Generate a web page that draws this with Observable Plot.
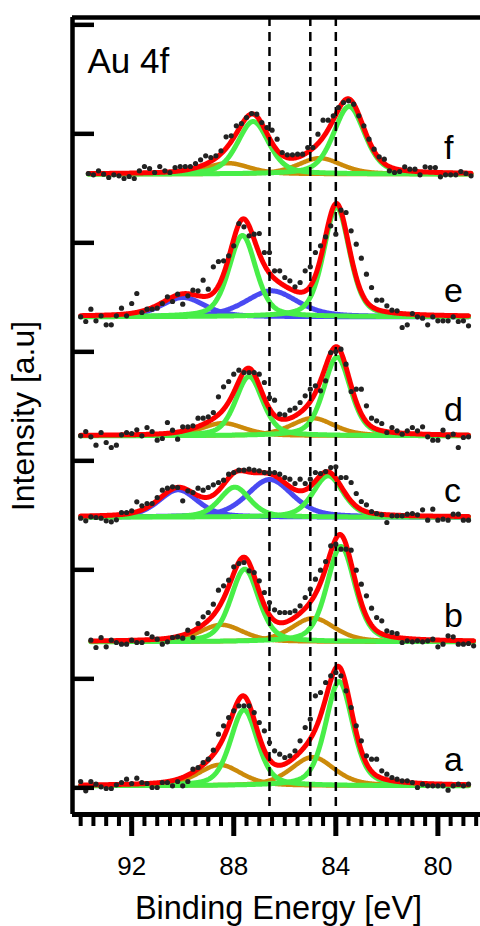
<!DOCTYPE html>
<html><head><meta charset="utf-8">
<script src="https://cdn.jsdelivr.net/npm/d3@7"></script>
<script src="https://cdn.jsdelivr.net/npm/@observablehq/plot@0.6"></script>
<style>body{margin:0;background:#fff}</style>
</head><body><div id="chart"></div>
<script>
// ---- data (intensities in arbitrary units; 327 a.u. between y ticks) ----
const spectra = ["a", "b", "c", "d", "e", "f"];
const offsets = [6, 438, 812, 1056, 1413, 1841];        // vertical stacking offset of each spectrum
const firstEnergy = [94.0, 93.6, 94.0, 94.0, 94.0, 93.7];
const energyStep = 0.2;

const dots_a = [13,-15,13,5,-3,-8,-8,3,10,20, 7,23,10,7,-5,-5,10,10,0,13, 0,13,50,55,70,80,107,155,180,205,
  225,240,240,240,220,190,165,130,105,95, 85,90,105,135,175,200,270,280,310,330, 340,330,285,235,180,135,90,80,80,45,
  35,25,20,15,15,10,-5,5,0,0, 0,0,-13,0,5,0,5];
const dots_b = [5,-17,13,-15,5,-2,-7,-7,5,-2,-2, 25,15,8,-7,0,13,15,11,35,13, 55,75,88,113,155,168,185,225,235,238,
  213,208,183,148,118,96,88,88,88,93, 108,133,158,188,215,241,288,293,278,278, 275,215,173,138,101,73,63,33,28,25,
  -2,3,0,3,0,3,8,-15,-7,18, 15,-7,-7,-5,-12];
const dots_c = [-3,-11,1,-1,-3,-11,-14,-8,14,14, 19,46,34,41,41,59,81,87,91,89, 49,79,74,87,81,89,97,104,111,129,
  134,141,141,144,141,139,134,134,134,129, 119,114,101,114,101,114,134,131,137,149, 151,119,119,104,71,47,37,17,11,7,
  -16,4,4,4,9,11,7,22,-9,24, -9,-6,-9,9,9,-9,-9];
const dots_d = [0,13,-3,-28,10,-20,-35,-28,3,10, 7,18,0,25,13,-13,-8,40,17,-10, 27,27,30,53,53,57,70,117,147,163,
  185,197,190,190,190,185,160,115,107,65, 63,77,83,100,120,140,150,135,165,250, 253,260,215,133,140,140,90,53,45,37,
  10,25,15,5,15,25,15,27,-3,-13, -13,17,-3,5,-35,-5,-3];
const dots_e = [0,-14,23,-12,3,-24,-24,3,26,3, 40,70,13,23,23,26,40,60,46,68, 38,63,80,78,110,83,150,166,168,183,
  213,280,270,243,248,250,193,193,138,138, 118,108,90,103,138,150,193,213,240,273, 248,320,313,258,218,176,128,88,50,50,
  33,20,18,-32,-24,10,0,-4,-24,0, -12,-12,-12,0,-14,-12,-27];
const dots_f = [2,-2,10,0,-10,-2,-5,-13,-7,-13, 10,23,17,5,23,10,5,20,23,23, 23,32,43,55,50,55,70,112,115,145,
  152,170,182,180,155,140,132,105,65,58, 58,60,60,80,80,120,162,162,175,200, 215,220,210,175,145,105,75,52,45,10,
  5,8,22,15,15,-2,22,20,20,-8, -2,-2,-2,8,2,-5];
const dotHeights = [dots_a, dots_b, dots_c, dots_d, dots_e, dots_f];

// fitted peak components
const peakSpectrum = ["a","a","a","a", "b","b","b","b", "c","c","c","c", "d","d","d","d", "e","e","e","e", "f","f","f","f"];
const peakKind = ["green","green","orange","orange", "green","green","orange","orange", "green","green","blue","blue",
                  "green","green","orange","orange", "green","green","blue","blue", "green","green","orange","orange"];
const peakCenter = [83.87,87.60,84.91,88.55, 83.80,87.57,84.89,88.48, 84.30,87.96,86.59,90.18,
                    83.95,87.40,84.91,88.42, 83.97,87.66,86.52,89.99, 83.48,87.24,84.63,88.22];
const peakHeight = [313,228,86,63, 286,218,71,51, 124,90,113,82, 236,178,53,38, 329,244,78,58, 203,158,48,33];
const peakFwhm = [1.25,1.25,2.0,2.0, 1.3,1.3,2.0,2.0, 1.4,1.4,2.1,1.8, 1.25,1.25,2.0,2.0, 1.2,1.25,2.4,2.0, 1.45,1.45,2.0,2.0];
const lorentzFraction = 0.4;

const xMajorTicks = [92, 88, 84, 80];
const xMinorTicks = [94,93.5,93,92.5,92,91.5,91,90.5,90,89.5,89,88.5,88,87.5,87,86.5,86,85.5,85,84.5,84,83.5,83,82.5,82,81.5,81,80.5,80,79.5,79,78.5];
const yTicks = [0, 327, 654, 981, 1308, 1635, 1962, 2289];
const referenceEnergies = [86.6, 85.0, 84.0];
const labelEnergy = 79.76;

const xDomain = [94.32, 78.33];
const yDomain = [-80, 2311];
const kindColor = {green: "#48EE48", orange: "#CC8A0A", blue: "#4A4AF2"};

// ---- build rows ----
function lineShape(e, c, h, w) {
  const t = (e - c) / w;
  return h * (lorentzFraction / (1 + 4 * t * t) + (1 - lorentzFraction) * Math.exp(-4 * Math.LN2 * t * t));
}
const dotRows = [], compRows = [], fitRows = [];
spectra.forEach((s, si) => {
  const hs = dotHeights[si];
  const e0 = firstEnergy[si];
  const eN = e0 - energyStep * (hs.length - 1);
  hs.forEach((v, i) => dotRows.push({s, e: e0 - energyStep * i, y: offsets[si] + v}));
  const n = Math.round((e0 - eN) / 0.02);
  const grid = d3.range(0, n + 1).map(i => e0 - i * 0.02);
  const idx = peakSpectrum.map((p, j) => p === s ? j : -1).filter(j => j >= 0);
  idx.forEach(j => grid.forEach(e => compRows.push({
    s, id: s + j, kind: peakKind[j], e,
    y: offsets[si] + lineShape(e, peakCenter[j], peakHeight[j], peakFwhm[j])
  })));
  grid.forEach(e => fitRows.push({s, e,
    y: offsets[si] + d3.sum(idx, j => lineShape(e, peakCenter[j], peakHeight[j], peakFwhm[j]))}));
});

const compLine = kind => Plot.line(compRows.filter(d => d.kind === kind),
  {x: "e", y: "y", z: "id", stroke: kindColor[kind], strokeWidth: kind === "orange" ? 4.5 : 5, strokeLinejoin: "round"});

const chart = Plot.plot({
  width: 480, height: 926,
  marginLeft: 72, marginRight: 0, marginTop: 17, marginBottom: 112,
  x: {domain: xDomain, axis: null, label: null},
  y: {domain: yDomain, axis: null, label: null},
  style: {fontFamily: "'Liberation Sans', Arial, sans-serif", background: "#fff", color: "#000"},
  marks: [
    compLine("orange"),
    compLine("blue"),
    compLine("green"),
    Plot.line(fitRows, {x: "e", y: "y", z: "s", stroke: "#FF0000", strokeWidth: 5, strokeLinejoin: "round"}),
    Plot.ruleX(referenceEnergies, {stroke: "#000", strokeWidth: 2.5, strokeDasharray: "9,6"}),
    Plot.dot(dotRows, {x: "e", y: "y", r: 2.6, fill: "#222", stroke: null}),
    Plot.ruleX([xDomain[0]], {stroke: "#000", strokeWidth: 4.5}),
    Plot.ruleY([yDomain[0]], {stroke: "#000", strokeWidth: 5}),
    Plot.ruleY([yDomain[1]], {stroke: "#000", strokeWidth: 4.5}),
    Plot.axisY(yTicks, {anchor: "left", label: null, tickSize: 22, dx: 22, strokeWidth: 4.5, tickFormat: () => ""}),
    Plot.axisX(xMinorTicks, {anchor: "bottom", label: null, tickSize: 12, strokeWidth: 4, tickFormat: () => ""}),
    Plot.axisX(xMajorTicks, {anchor: "bottom", label: null, tickSize: 22, strokeWidth: 5, tickPadding: 20, fontSize: 26, tickFormat: d => String(d)}),
    Plot.text(["Binding Energy [eV]"], {frameAnchor: "bottom", dx: 2, dy: 104, lineAnchor: "bottom", textAnchor: "middle", fontSize: 32.5}),
    Plot.text(["Intensity [a.u]"], {frameAnchor: "left", rotate: -90, dx: -39, lineAnchor: "bottom", textAnchor: "middle", fontSize: 32}),
    Plot.text(["Au 4f"], {frameAnchor: "top-left", dx: 15, dy: 31, lineAnchor: "top", textAnchor: "start", fontSize: 35}),
    Plot.text(spectra, {x: () => labelEnergy, y: (d, i) => offsets[i], dy: -15, textAnchor: "start", lineAnchor: "bottom", fontSize: 34})
  ]
});
document.getElementById("chart").appendChild(chart);
</script>
</body></html>
